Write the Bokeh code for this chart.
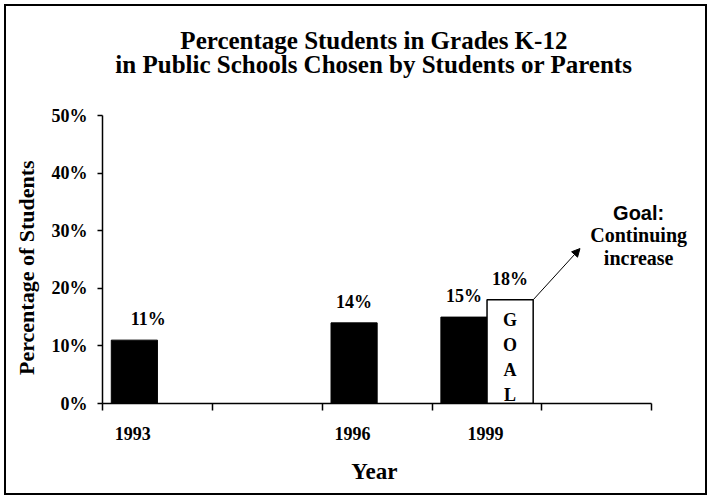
import numpy as np
from bokeh.plotting import figure
from bokeh.models import (Label, Arrow, NormalHead, FixedTicker, Range1d,
                          ColumnDataSource, Title)
from bokeh.core.properties import value
from bokeh.embed import file_html
from bokeh.resources import INLINE

# ---------------- data ----------------
categories = ["1993", "", "1996", "1999", ""]
actual_pct = [11, None, 14, 15, None]
goal_pct = [None, None, None, 18, None]
y_ticks = [0, 10, 20, 30, 40, 50]
y_tick_labels = ["0%", "10%", "20%", "30%", "40%", "50%"]
title_lines = ["Percentage Students in Grades K-12",
               "in Public Schools Chosen by Students or Parents"]
goal_note = ["Goal:", "Continuing", "increase"]
goal_word = "GOAL"
x_title = "Year"
y_title = "Percentage of Students"

# ---------------- layout / style ----------------
SERIF = "Liberation Serif"
SANS = "Liberation Sans"
BW = 0.42            # bar width in category units
OFF_A, OFF_G = 0.29, 0.71
PX_X = 110.05        # px per category
PX_Y = 5.76          # px per percent

W, H = 703, 491
ML, MR, MT, MB = 95, 9, 0, 94
x_end = (W - ML - MR) / PX_X
y_end = (H - MT - MB) / PX_Y
n_cat = len(categories)

# Times-bold advance widths (per 1000 em) for placing the side titles
ADV = {"Y": 722, "e": 444, "a": 500, "r": 444, "P": 611, "c": 444, "n": 556,
       "t": 333, "g": 500, "o": 500, "f": 333, "S": 556, "u": 556, "d": 556,
       "s": 389, " ": 250}


def text_px(s, size):
    return sum(ADV.get(ch, 500) for ch in s) / 1000 * size


p = figure(width=W, height=H, output_backend="svg", toolbar_location=None,
           x_range=Range1d(0, x_end), y_range=Range1d(0, y_end),
           min_border_left=ML, min_border_right=MR, min_border_top=MT,
           min_border_bottom=MB, background_fill_color="white",
           border_fill_color="white")
p.styles = {"border": "2px solid black", "margin": "4px 0 0 4px"}
p.outline_line_color = None
p.grid.visible = False

idx = np.arange(n_cat)
ax = [float(i + OFF_A) for i, v in zip(idx, actual_pct) if v is not None]
ay = [v for v in actual_pct if v is not None]
gx = [float(i + OFF_G) for i, v in zip(idx, goal_pct) if v is not None]
gy = [v for v in goal_pct if v is not None]

src_a = ColumnDataSource(dict(x=ax, top=ay, lab=[f"{v}%" for v in ay],
                              dx=[14, 0, 0]))
src_g = ColumnDataSource(dict(x=gx, top=gy, lab=[f"{v}%" for v in gy],
                              mid=[v / 2 for v in gy], word=["\n".join(goal_word)]))

p.vbar(x="x", top="top", width=BW, source=src_a, fill_color="black",
       line_color="black", line_width=1)
p.vbar(x="x", top="top", width=BW, source=src_g, fill_color="white",
       line_color="black", line_width=1.5)

txt_kw = dict(text_align="center", text_baseline="middle", text_font=value(SERIF),
              text_font_style="bold", text_font_size="18px", text_color="black")
p.text(x="x", y="top", text="lab", source=src_a, x_offset="dx", y_offset=-21, **txt_kw)
p.text(x="x", y="top", text="lab", source=src_g, y_offset=-21, **txt_kw)
p.text(x="x", y="mid", text="word", source=src_g, y_offset=6, text_line_height=1.25,
       **txt_kw)

# ---------------- x axis: boundary ticks (minor) + year labels (major) ----------------
year_pos = []
year_lab = []
for i, c in enumerate(categories):
    if not c:
        continue
    offs = []
    if actual_pct[i] is not None:
        offs.append(OFF_A)
    if goal_pct[i] is not None:
        offs.append(OFF_G)
    year_pos.append(round(i + float(np.mean(offs)) - 0.015, 3))
    year_lab.append(c)

xa = p.xaxis[0]
xa.ticker = FixedTicker(ticks=year_pos, minor_ticks=list(range(n_cat + 1)))
xa.major_label_overrides = {t: l for t, l in zip(year_pos, year_lab)}
xa.bounds = (0, n_cat)
xa.major_tick_line_color = None
xa.major_tick_out = 0
xa.major_tick_in = 0
xa.minor_tick_out = 7
xa.minor_tick_in = 0
xa.minor_tick_line_color = "black"
xa.minor_tick_line_width = 1.5
xa.axis_line_width = 1.5
xa.major_label_standoff = 16
xa.major_label_text_font = SERIF
xa.major_label_text_font_style = "bold"
xa.major_label_text_font_size = "18px"
xa.major_label_text_color = "black"

ya = p.yaxis[0]
ya.ticker = FixedTicker(ticks=y_ticks)
ya.bounds = (0, 50)
ya.major_label_overrides = {t: l for t, l in zip(y_ticks, y_tick_labels)}
ya.major_label_text_font = SERIF
ya.major_label_text_font_style = "bold"
ya.major_label_text_font_size = "18px"
ya.major_label_text_color = "black"
ya.major_label_standoff = 10
ya.major_tick_out = 5
ya.major_tick_in = 0
ya.minor_tick_line_color = None
ya.axis_line_width = 1.5
ya.major_tick_line_width = 1.5

# axis titles as side titles, placed by their start so they sit under the axis span
XT_SIZE, YT_SIZE = 23, 22
x_title_start = n_cat * PX_X / 2 - text_px(x_title, XT_SIZE) / 2 - 2
y_title_start = 136 - text_px(y_title, YT_SIZE) / 2
p.add_layout(Title(text=x_title, align="left", offset=x_title_start, standoff=28,
                   text_font=SERIF, text_font_style="bold",
                   text_font_size=f"{XT_SIZE}px", text_color="black"), "below")
p.add_layout(Title(text=y_title, align="left", vertical_align="top",
                   offset=y_title_start, standoff=15,
                   text_font=SERIF, text_font_style="bold",
                   text_font_size=f"{YT_SIZE}px", text_color="black"), "left")

# ---------------- chart title ----------------
mid_x = n_cat / 2 - 0.03
for line, up in zip(title_lines, [75, 51]):
    p.add_layout(Label(x=mid_x, y=50, y_offset=up, text=line, text_align="center",
                       text_baseline="alphabetic", text_font=SERIF,
                       text_font_style="bold", text_font_size="25px",
                       text_color="black"))

# ---------------- goal note + arrow ----------------
note_x = 4.88
for txt, yy, font, size in zip(goal_note, [33.1, 29.3, 25.3], [SANS, SERIF, SERIF],
                               ["20px", "20px", "20px"]):
    p.add_layout(Label(x=note_x, y=yy, text=txt, text_align="center",
                       text_baseline="middle", text_font=font,
                       text_font_style="bold", text_font_size=size,
                       text_color="black"))

p.add_layout(Arrow(end=NormalHead(size=8, fill_color="black", line_color="black"),
                   x_start=gx[0] + BW / 2, y_start=gy[0], x_end=4.346, y_end=26.9,
                   line_color="black", line_width=1))

open("out.html", "w").write(file_html(p, INLINE))
